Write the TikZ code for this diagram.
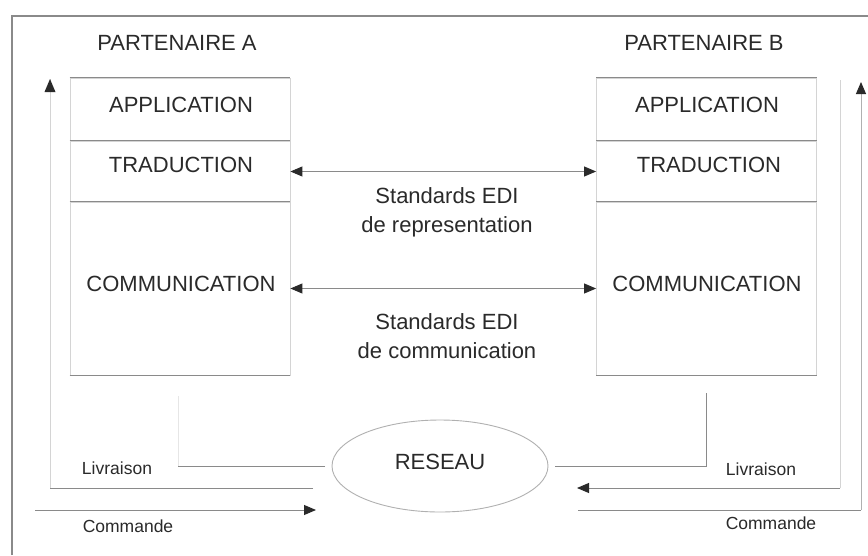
\documentclass[tikz,border=0pt]{standalone}
\usepackage{fontspec}
\setmainfont{Liberation Sans}
\usetikzlibrary{arrows.meta,shapes.geometric}
\definecolor{ink}{HTML}{2A2A2A}
\definecolor{rule}{HTML}{8A8A8A}
\definecolor{faint}{HTML}{D4D4D4}
\definecolor{ghost}{HTML}{E6E6E6}
\definecolor{pale}{HTML}{B0B0B0}
\tikzset{
  lbl/.style={font=\fontsize{22}{26}\selectfont, text=ink, inner sep=0pt},
  small/.style={font=\fontsize{17.5}{21}\selectfont, text=ink, inner sep=0pt},
  layer/.style={draw=faint, line width=0.8pt, minimum width=220pt, inner sep=0pt},
  sep/.style={draw=rule, line width=0.9pt},
  link/.style={draw=rule, line width=0.9pt},
  thin/.style={draw=faint, line width=0.9pt},
  tip/.style={-{Triangle[length=12pt,width=10pt,color=ink]}},
  both/.style={{Triangle[length=12pt,width=10pt,color=ink]}-{Triangle[length=12pt,width=10pt,color=ink]}},
}
\begin{document}
\begin{tikzpicture}[x=1pt,y=-1pt]
\useasboundingbox (0,0) rectangle (868,555);
\fill[white] (0,0) rectangle (868,555);
% outer frame
\draw[rule, line width=1.1pt] (12,555) -- (12,16) -- (868,16);

% partner A stack
\node[layer, minimum height=63pt] (appA) at (180,109.5) {};
\node[layer, minimum height=61pt] (traA) at (180,171.5) {};
\node[layer, minimum height=173pt] (comA) at (180,288.5) {};
\draw[sep] (appA.north west) -- (appA.north east);
\draw[sep] (traA.north west) -- (traA.north east);
\draw[sep] (comA.north west) -- (comA.north east);
\draw[sep] (comA.south west) -- (comA.south east);
\node[lbl] (titA) at (177,43) {PARTENAIRE A};
\node[lbl] (tappA) at (181,105) {APPLICATION};
\node[lbl] (ttraA) at (181,165) {TRADUCTION};
\node[lbl] (tcomA) at (181,284) {COMMUNICATION};

% partner B stack
\node[layer, minimum height=63pt] (appB) at (706.5,109.5) {};
\node[layer, minimum height=61pt] (traB) at (706.5,171.5) {};
\node[layer, minimum height=173pt] (comB) at (706.5,288.5) {};
\draw[sep] (appB.north west) -- (appB.north east);
\draw[sep] (traB.north west) -- (traB.north east);
\draw[sep] (comB.north west) -- (comB.north east);
\draw[sep] (comB.south west) -- (comB.south east);
\node[lbl] (titB) at (704,43) {PARTENAIRE B};
\node[lbl] (tappB) at (707,105) {APPLICATION};
\node[lbl] (ttraB) at (709,165) {TRADUCTION};
\node[lbl] (tcomB) at (707,284) {COMMUNICATION};

% standards between the layers
\draw[link, both] (traA.east) -- (traB.west);
\draw[link, both] (comA.east) -- (comB.west);
\node[lbl, align=center] (stdRep) at (447,212) {Standards EDI\\[3pt]de representation};
\node[lbl, align=center] (stdCom) at (447,336) {Standards EDI\\[3pt]de communication};

% network
\node[ellipse, draw=pale, line width=0.9pt, minimum width=216pt, minimum height=92pt,
      inner sep=0pt, text depth=8pt, lbl] (net) at (440,466) {RESEAU};

% connections to the network
\coordinate (nA) at (325,466);
\coordinate (kA) at (178,466);
\coordinate (uA) at (178,396);
\draw[draw=ghost, line width=0.9pt] (nA) -- (kA) -- (uA);
\draw[link] (nA) -- (kA);

\coordinate (nB) at (555,466);
\coordinate (kB) at (706,466);
\coordinate (uB) at (706,393);
\draw[link] (nB) -- (kB) -- (uB);

% partner A: delivery in, order out
\coordinate (livAs) at (313,488);
\coordinate (livAk) at (50,488);
\coordinate (livAe) at (50,79);
\draw[thin] (livAk) -- (livAe);
\draw[link] (livAs) -- (livAk);
\draw[draw=none, fill=ink] (50,79) -- (44.5,92) -- (55.5,92) -- cycle;
\coordinate (cmdAs) at (35,510);
\coordinate (cmdAe) at (316,510);
\draw[link, tip] (cmdAs) -- (cmdAe);
\node[small] (livA) at (117,468) {Livraison};
\node[small] (cmdA) at (128,526) {Commande};

% partner B: delivery out, order in
\coordinate (livBs) at (840,80);
\coordinate (livBk) at (840,488);
\coordinate (livBe) at (577,488);
\draw[thin] (livBs) -- (livBk);
\draw[link, tip] (livBk) -- (livBe);
\coordinate (cmdBs) at (578,510);
\coordinate (cmdBk) at (861,510);
\coordinate (cmdBe) at (861,82);
\draw[link] (cmdBs) -- (cmdBk);
\draw[draw=pale, line width=0.9pt, tip] (cmdBk) -- (cmdBe);
\node[small] (livB) at (761,469) {Livraison};
\node[small] (cmdB) at (771,523) {Commande};
\end{tikzpicture}
\end{document}
